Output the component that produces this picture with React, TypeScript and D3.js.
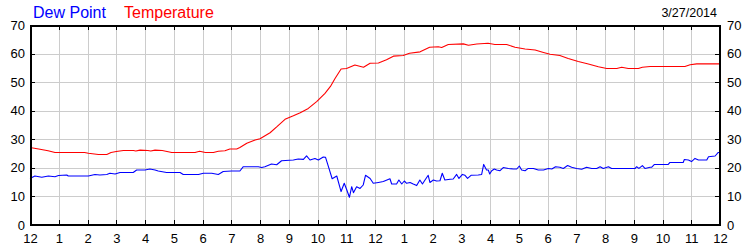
import React from "react";
import * as d3 from "d3";

const tempHours = [0, 0.3, 0.63, 0.87, 1.9, 2.03, 2.38, 2.67, 2.82, 3.0, 3.25, 3.6, 3.68, 3.83, 4.1, 4.2, 4.35, 4.6, 4.93, 5.74, 5.9, 6.1, 6.38, 6.55, 6.78, 6.95, 7.19, 7.3, 7.54, 7.83, 8.0, 8.35, 8.6, 8.87, 9.16, 9.4, 9.68, 9.97, 10.26, 10.45, 10.61, 10.82, 11.01, 11.3, 11.6, 11.83, 12.12, 12.4, 12.64, 12.98, 13.2, 13.57, 13.9, 14.2, 14.32, 14.55, 15.07, 15.25, 15.54, 15.93, 16.17, 16.58, 16.87, 17.22, 17.57, 17.86, 18.09, 18.43, 18.72, 19.07, 19.42, 19.77, 20.06, 20.41, 20.58, 20.81, 21.16, 21.3, 21.57, 22.78, 22.96, 23.19, 24];
const tempValues = [27.1, 26.6, 26.0, 25.4, 25.4, 25.1, 24.7, 24.7, 25.4, 25.7, 26.1, 26.1, 25.9, 26.2, 26.1, 25.9, 26.2, 26.1, 25.4, 25.4, 25.8, 25.4, 25.4, 25.8, 26.0, 26.6, 26.6, 27.1, 28.6, 29.75, 30.2, 32.3, 34.5, 37.0, 38.2, 39.3, 40.8, 43.2, 46.1, 48.5, 51.3, 54.6, 54.8, 56.0, 55.2, 56.6, 56.7, 57.8, 59.1, 59.3, 60.1, 60.6, 62.2, 62.4, 62.1, 63.2, 63.4, 62.9, 63.35, 63.6, 63.2, 63.2, 62.2, 61.6, 61.25, 60.4, 59.75, 59.3, 58.3, 57.2, 56.35, 55.4, 54.8, 54.8, 55.2, 54.8, 54.8, 55.2, 55.5, 55.5, 56.1, 56.4, 56.4];

const dewHours = [0, 0.17, 0.41, 0.64, 0.87, 0.99, 1.28, 1.33, 2.03, 2.26, 2.43, 2.67, 2.78, 2.96, 3.13, 3.59, 3.71, 4.0, 4.17, 4.35, 4.46, 4.75, 5.22, 5.33, 5.86, 6.03, 6.32, 6.55, 6.72, 7.01, 7.3, 7.42, 7.94, 8.06, 8.17, 8.4, 8.58, 8.75, 9.16, 9.33, 9.51, 9.62, 9.74, 9.91, 10.03, 10.2, 10.28, 10.38, 10.51, 10.67, 10.82, 10.93, 11.01, 11.11, 11.19, 11.25, 11.36, 11.48, 11.59, 11.67, 11.83, 11.94, 12.12, 12.29, 12.52, 12.58, 12.75, 12.83, 12.93, 13.02, 13.1, 13.22, 13.33, 13.45, 13.56, 13.65, 13.74, 13.85, 13.91, 14.03, 14.14, 14.26, 14.34, 14.43, 14.61, 14.72, 14.84, 14.92, 15.04, 15.13, 15.22, 15.34, 15.59, 15.71, 15.78, 15.88, 15.94, 15.99, 16.06, 16.15, 16.23, 16.35, 16.46, 16.64, 16.81, 16.93, 17.02, 17.1, 17.22, 17.33, 17.51, 17.68, 17.86, 18.03, 18.15, 18.28, 18.43, 18.55, 18.7, 18.84, 19.01, 19.19, 19.36, 19.54, 19.71, 19.83, 19.94, 20.12, 20.23, 21.05, 21.1, 21.18, 21.3, 21.39, 21.57, 21.62, 21.72, 22.2, 22.26, 22.72, 22.76, 22.9, 23.01, 23.13, 23.25, 23.54, 23.6, 23.83, 23.94, 24];
const dewValues = [16.3, 17.15, 16.7, 17.15, 16.9, 17.3, 17.5, 17.15, 17.15, 17.7, 17.5, 17.7, 18.1, 17.85, 18.4, 18.4, 19.25, 19.25, 19.6, 19.25, 18.9, 18.4, 18.4, 17.7, 17.7, 18.1, 18.1, 17.7, 18.7, 18.9, 18.9, 20.4, 20.4, 20.1, 20.4, 21.35, 21.1, 22.5, 22.75, 23.1, 22.98, 24.2, 22.75, 23.3, 22.75, 23.8, 23.7, 20.4, 16.2, 17.15, 11.7, 14.6, 12.5, 9.7, 13.4, 11.3, 13.4, 12.8, 14.0, 17.4, 16.3, 14.6, 14.9, 15.2, 16.2, 14.35, 14.35, 15.75, 14.35, 15.4, 14.6, 14.9, 14.35, 13.8, 15.75, 14.35, 15.75, 17.4, 14.9, 15.75, 15.4, 15.5, 18.1, 15.75, 16.0, 16.1, 17.7, 16.3, 17.7, 17.4, 16.3, 17.4, 17.5, 17.7, 21.2, 19.25, 19.25, 17.85, 19.0, 19.6, 19.25, 19.0, 20.1, 19.8, 19.6, 19.6, 20.65, 19.25, 19.0, 19.8, 19.8, 19.25, 19.25, 19.8, 19.6, 20.4, 20.2, 19.8, 20.8, 20.2, 19.8, 19.5, 20.2, 19.8, 19.8, 20.4, 19.8, 20.4, 19.8, 19.8, 20.4, 19.8, 20.8, 19.8, 20.2, 20.2, 21.2, 21.2, 21.9, 21.9, 22.9, 22.75, 22.2, 23.3, 22.75, 22.75, 23.9, 24.15, 25.4, 25.4];

const xTickLabels = ["12", "1", "2", "3", "4", "5", "6", "7", "8", "9", "10", "11", "12", "1", "2", "3", "4", "5", "6", "7", "8", "9", "10", "11", "12"];
const yTicks = [0, 10, 20, 30, 40, 50, 60, 70];
const legendLabels = ["Dew Point", "Temperature"];
const dateLabel = "3/27/2014";

const W = 750, H = 250;
const L = 30, R = 720, T = 25, B = 225;
const FONT = "'Liberation Sans', Arial, sans-serif";

export default function App() {
  const x = d3.scaleLinear().domain([0, 24]).range([L, R]);
  const y = d3.scaleLinear().domain([0, 70]).range([B, T]);
  const line = d3.line<[number, number]>().x(d => x(d[0])).y(d => y(d[1]));
  const tempPts: [number, number][] = tempHours.map((h, i) => [h, tempValues[i]]);
  const dewPts: [number, number][] = dewHours.map((h, i) => [h, dewValues[i]]);
  const hours = d3.range(0, 25);
  return (
    <svg width={W} height={H} style={{ position: "absolute", left: 0, top: 0, background: "#fff" }} fontFamily={FONT}>
      <rect x={0} y={0} width={W} height={H} fill="#fff" />
      {hours.slice(1, 24).map(h => (
        <line key={"gx" + h} x1={Math.round(x(h)) + 0.5} x2={Math.round(x(h)) + 0.5} y1={T} y2={B} stroke="#cccccc" strokeWidth={1} />
      ))}
      {yTicks.slice(1, yTicks.length - 1).map(v => (
        <line key={"gy" + v} x1={L} x2={R} y1={Math.round(y(v)) + 0.5} y2={Math.round(y(v)) + 0.5} stroke="#cccccc" strokeWidth={1} />
      ))}
      <path d={line(tempPts) || ""} fill="none" stroke="#ff0000" strokeWidth={1.1} strokeLinejoin="round" />
      <path d={line(dewPts) || ""} fill="none" stroke="#0000ff" strokeWidth={1.1} strokeLinejoin="round" />
      <rect x={L + 1} y={T + 1} width={R - L - 1} height={B - T - 1} fill="none" stroke="#000" strokeWidth={2} />
      {hours.slice(1, 24).map(h => {
        const px = Math.round(x(h)) + 0.5;
        return (
          <g key={"tx" + h}>
            <line x1={px} x2={px} y1={T} y2={T + 5} stroke="#000" />
            <line x1={px} x2={px} y1={B} y2={B - 5} stroke="#000" />
          </g>
        );
      })}
      {yTicks.slice(1, yTicks.length - 1).map(v => {
        const py = Math.round(y(v)) + 0.5;
        return (
          <g key={"ty" + v}>
            <line x1={L} x2={L + 5} y1={py} y2={py} stroke="#000" />
            <line x1={R} x2={R - 5} y1={py} y2={py} stroke="#000" />
          </g>
        );
      })}
      {yTicks.map(v => (
        <g key={"yl" + v}>
          <text x={25} y={y(v) + 4.5} textAnchor="end" fontSize={13} fill="#000">{v}</text>
          <text x={727} y={y(v) + 4.5} textAnchor="start" fontSize={13} fill="#000">{v}</text>
        </g>
      ))}
      {hours.map(h => (
        <text key={"xl" + h} x={x(h) + 0.5} y={243} textAnchor="middle" fontSize={13} fill="#000">{xTickLabels[h]}</text>
      ))}
      <text x={33} y={17.5} fontSize={16} fill="#0000ff">{legendLabels[0]}</text>
      <text x={124} y={17.5} fontSize={16} fill="#ff0000">{legendLabels[1]}</text>
      <text x={717} y={16.5} textAnchor="end" fontSize={12.5} fill="#000">{dateLabel}</text>
    </svg>
  );
}
